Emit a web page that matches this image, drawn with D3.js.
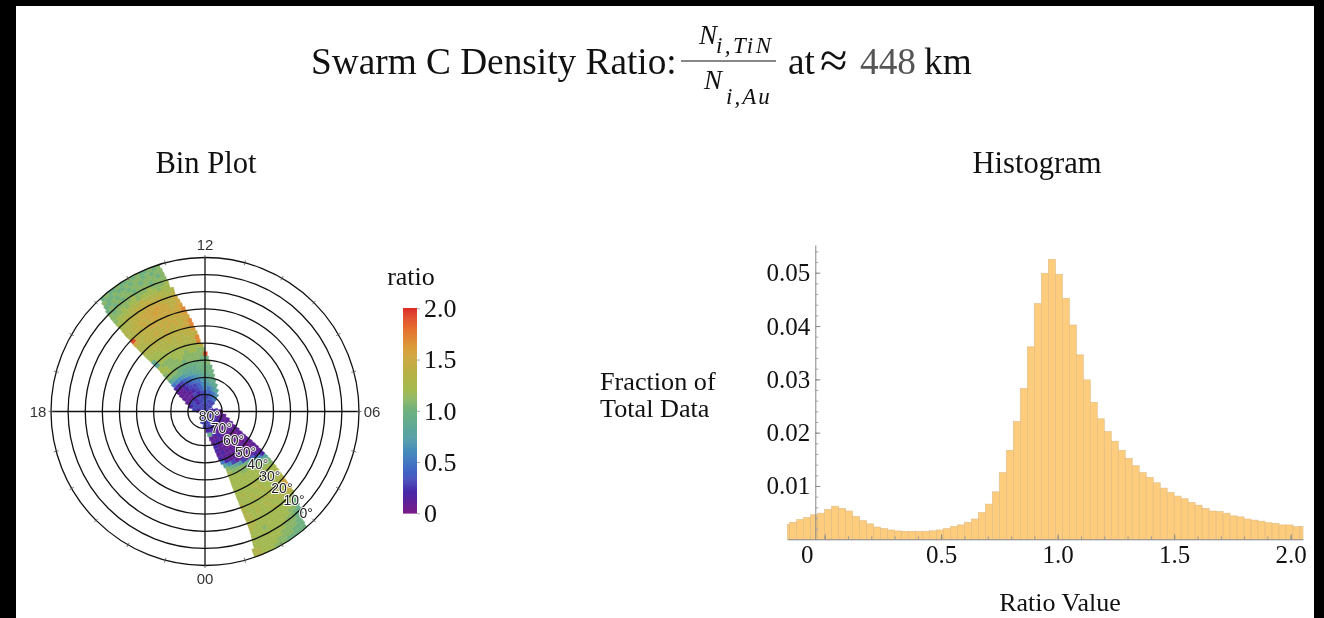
<!DOCTYPE html>
<html>
<head>
<meta charset="utf-8">
<script src="https://d3js.org/d3.v7.min.js"></script>
<style>
body { margin: 0; background: black; overflow: hidden; }
svg { display: block; filter: blur(0.45px); }
text { font-family: "Liberation Serif", serif; fill: #111; }
.sans { font-family: "Liberation Sans", sans-serif; }
</style>
</head>
<body>
<div id="chart"></div>
<script>
// histogram: fraction of total data per bin
var binStart = -0.18;
var binWidth = 0.03;
var fractions = [
    .0028, .0032, .0037, .0041, .0046, .0049, .0056, .0062, .0058, .0053,
    .0043, .0035, .0029, .0023, .0020, .00175, .00157, .0015, .0015, .00144,
    .0015, .0016, .00175, .0020, .0024, .0027, .0032, .0038, .0050, .0066,
    .0089, .0125, .0167, .0221, .0283, .0361, .0442, .0499, .0525, .0497,
    .0452, .0402, .0346, .0299, .0257, .0226, .0202, .0184, .0167, .0152,
    .0138, .0125, .0116, .0106, .0096, .0088, .0081, .0076, .0069, .0064,
    .0058, .0053, .0052, .0049, .0044, .0042, .0038, .0036, .0034, .0031,
    .0030, .0027, .0027, .0024, .0024
];
var histXTicks = [0, 0.5, 1, 1.5, 2];
var histYTicks = [0.01, 0.02, 0.03, 0.04, 0.05];

// bin plot: one row per latitude band, MLT limits for both halves of the swath
var latBands = [0, 2.5, 5, 7.5, 10, 12.5, 15, 17.5, 20, 22.5, 25, 27.5, 30, 32.5, 35, 37.5, 40, 42.5,
    45, 47.5, 50, 52.5, 55, 57.5, 60, 62.5, 65, 67.5, 70, 72.5, 75, 77.5, 80, 82.5, 85, 87.5];
var upperStart = [13.15, 13.12, 13.1, 13.08, 13.05, 13.05, 12.95, 12.95, 12.9, 12.85, 12.8, 12.72, 12.68, 12.62, 12.55, 12.5, 12.45, 12.37,
    12.3, 12.25, 12.1, 12, 11.85, 11.75, 11.6, 11.4, 11.2, 11, 10.7, 10.3, 9.8, 9.3, 9, 8.6, 8, 0];
var upperEnd = [14.87, 14.92, 14.95, 15, 15.02, 15.04, 15.05, 15.06, 15.06, 15.08, 15.1, 15.1, 15.13, 15.15, 15.15, 15.16, 15.17, 15.18,
    15.18, 15.2, 15.2, 15.2, 15.25, 15.3, 15.35, 15.4, 15.5, 15.65, 15.85, 16, 16.2, 16.6, 17.2, 18, 18.5, 24];
var lowerStart = [1.25, 1.25, 1.32, 1.33, 1.35, 1.36, 1.37, 1.37, 1.37, 1.36, 1.36, 1.35, 1.35, 1.35, 1.34, 1.34, 1.33, 1.33,
    1.33, 1.33, 1.33, 1.33, 1.25, 1.13, 1.05, 1, 0.95, 0.9, 0.75, 0.6, 0.4, 0.15, -0.5, -1.5, -2.5, 0];
var lowerEnd = [2.77, 2.8, 2.88, 2.95, 3, 3.05, 3.1, 3.15, 3.22, 3.27, 3.3, 3.33, 3.38, 3.42, 3.47, 3.52, 3.58, 3.62,
    3.66, 3.7, 3.75, 3.8, 3.85, 3.9, 3.95, 4, 4.1, 4.25, 4.4, 4.65, 5, 5.5, 6.5, 7, 7.5, 0];

// cell values are ratio x 10, ordered by rising MLT
var upperCells = [
    [11,10,11,10,10,11,10,11,10,10,11,10,10,11,10],
    [11,11,10,11,10,11,11,10,11,10,10,11,10,10,11],
    [11,10,11,11,11,10,11,11,10,11,11,10,11,10,10],
    [11,11,11,10,11,11,11,10,11,11,10,11,10,11,10],
    [12,11,11,11,12,11,11,11,12,11,11,11,11,10,11],
    [12,12,11,12,12,12,12,11,12,12,11,12,11,11,11],
    [13,12,13,13,13,13,13,14,13,13,13,12,12,12,11],
    [14,13,13,14,14,14,15,14,14,14,13,13,13,12,12],
    [15,14,14,14,15,15,15,15,14,14,14,14,13,13,12],
    [15,14,14,15,15,16,15,15,15,15,14,14,13,13,13],
    [16,15,14,15,15,15,16,15,15,14,15,14,14,13,13],
    [17,15,15,15,15,15,15,15,14,15,14,14,13,13],
    [16,15,15,14,15,15,14,15,15,14,14,14,14,19],
    [15,15,14,15,15,14,15,14,14,14,14,13,14,15],
    [17,15,14,15,14,15,14,14,15,14,14,14,13,13],
    [17,15,15,14,14,14,15,14,14,14,14,13,13,13],
    [16,14,14,14,14,14,14,14,13,14,13,13,13],
    [14,14,14,13,14,13,14,13,13,13,13,13,12],
    [17,14,13,13,14,13,13,13,13,13,12,12,12],
    [17,13,13,13,13,13,12,13,12,12,12,9],
    [14,12,12,12,12,12,12,12,12,12,12,8],
    [11,11,12,12,11,12,12,12,11,11,11,12],
    [19,11,11,11,11,11,12,11,11,11,12,12],
    [10,10,11,11,11,10,11,11,11,12,11],
    [11,10,10,10,10,10,10,10,11,11,11],
    [10,10,10,10,9,9,9,9,10,10,9,8],
    [10,10,10,9,9,8,8,7,6,6,5],
    [10,9,9,8,7,6,5,4,3,2,2],
    [9,9,8,7,5,5,4,3,2,1,1],
    [9,8,7,6,4,3,3,2,1,1],
    [8,7,5,6,4,3,2,1,1,1],
    [7,5,4,4,3,2,3,1,1,1],
    [5,4,3,3,3,2,3,2],
    [3,3,4,3,2,3,3],
    [3,3,3,3,2],
    [3]
];
var lowerCells = [
    [13,13,12,12,12,11,11,11,10,10,10,10,10],
    [13,13,12,12,12,12,11,11,11,11,10,10,10],
    [12,12,12,12,12,12,12,11,11,11,11,10,10],
    [12,12,12,12,12,12,12,12,11,11,11,10,9],
    [12,12,12,12,12,12,12,12,12,11,11,10,9],
    [12,12,12,11,12,12,12,12,12,12,11,11,9],
    [13,12,12,12,12,12,12,12,12,12,12,11,10],
    [13,13,12,12,12,12,12,12,12,12,12,12,11],
    [13,13,12,12,12,12,12,13,12,12,12,13,13],
    [13,13,12,13,12,12,13,12,12,13,13,14,15],
    [13,12,12,13,12,13,12,13,12,13,13,16],
    [13,12,13,12,12,12,13,12,13,13,14,15],
    [13,12,12,12,13,12,12,13,12,12,13,13],
    [12,12,12,13,12,12,13,12,12,13,12,13],
    [12,13,12,12,12,13,12,12,13,12,13],
    [12,12,12,12,13,12,12,12,12,12,12],
    [12,12,12,12,12,12,12,12,12,12,11],
    [12,12,12,12,12,12,12,12,11,11,10],
    [12,12,12,12,12,12,11,11,10,8],
    [12,12,12,11,11,11,10,9,6,2],
    [12,11,11,11,10,8,4,2,1],
    [11,10,9,7,3,1,1,1,1],
    [8,6,3,1,1,1,1,1,1],
    [5,2,1,1,1,1,1,0,1],
    [2,1,1,1,1,1,1,1],
    [1,2,1,1,1,1,0,1],
    [2,1,1,0,1,1,1,1],
    [2,1,1,1,1,0,1],
    [1,2,1,1,1,1,1],
    [1,1,2,1,1,1,1],
    [9,2,1,1,1,1],
    [2,2,1,1,1,1],
    [3,3,2,2,1,1],
    [3,3,3,2,2],
    [3,3,2,2],
    []
];

var ringLats = [80, 70, 60, 50, 40, 30, 20, 10, 0];
var hourLabels = [[12, "12"], [6, "06"], [0, "00"], [18, "18"]];
var labelMlt = 3;
var legendTicks = [0, 0.5, 1, 1.5, 2];
var rainbowStops = ["#781c86", "#4a28a8", "#4163c4", "#478dbd", "#5aa59c", "#6fb27f", "#a3ba50", "#bcb045", "#da9f3a", "#e5702f", "#db2a26"];

var colorScale = d3.scaleLinear()
    .domain(d3.range(rainbowStops.length).map(function(i) { return 2 * i / (rainbowStops.length - 1); }))
    .range(rainbowStops);

var svg = d3.select("#chart").append("svg")
    .attr("width", 1324)
    .attr("height", 618);

svg.append("rect")
    .attr("x", 16)
    .attr("y", 6)
    .attr("width", 1298)
    .attr("height", 612)
    .attr("fill", "white");

drawTitle();
drawBinPlot();
drawLegend();
drawHistogram();

function addText(x, y, str, size, anchor) {
    return svg.append("text")
        .attr("x", x)
        .attr("y", y)
        .attr("font-size", size)
        .attr("text-anchor", anchor || "middle")
        .text(str);
}

function drawTitle() {
    addText(311, 74, "Swarm C Density Ratio:", 37.3, "start");
    addText(699, 44, "N", 27, "start").style("font-style", "italic");
    addText(716, 53, "i,TiN", 23, "start").style("font-style", "italic").style("letter-spacing", "2.4px");
    addText(704, 89, "N", 27, "start").style("font-style", "italic");
    addText(726, 104, "i,Au", 23, "start").style("font-style", "italic").style("letter-spacing", "2px");
    svg.append("line")
        .attr("x1", 681).attr("x2", 776)
        .attr("y1", 61).attr("y2", 61)
        .attr("stroke", "#111")
        .attr("stroke-width", 1);
    addText(788, 74, "at", 37.3, "start");
    addText(820, 77, "\u2248", 50, "start");
    addText(860, 74, "448", 37.3, "start").style("fill", "#555");
    addText(924, 74, "km", 37.3, "start");

    addText(206, 173, "Bin Plot", 30.6);
    addText(1037, 173, "Histogram", 30.6);
    addText(600, 390, "Fraction of", 26.2, "start");
    addText(600, 417, "Total Data", 26.2, "start");
    addText(1060, 611, "Ratio Value", 26);
}

function drawBinPlot() {
    var g = svg.append("g")
        .attr("transform", "translate(205,411.5)");

    var rScale = d3.scaleLinear().domain([90, 0]).range([0, 154]);
    var angle = d3.scaleLinear().domain([12, 0]).range([0, Math.PI]);

    var arc = d3.arc()
        .innerRadius(function(d) { return rScale(d.lat + 2.5); })
        .outerRadius(function(d) { return rScale(d.lat); })
        .startAngle(function(d) { return angle(d.m0); })
        .endAngle(function(d) { return angle(d.m1); });

    var cells = [];
    latBands.forEach(function(lat, i) {
        addRow(cells, lat, upperStart[i], upperEnd[i], upperCells[i]);
        addRow(cells, lat, lowerStart[i], lowerEnd[i], lowerCells[i]);
    });

    g.selectAll("path.cell").data(cells).enter()
        .append("path")
        .attr("class", "cell")
        .attr("d", arc)
        .attr("fill", function(d) { return colorScale(d.value); })
        .attr("stroke", function(d) { return d3.color(colorScale(d.value)).darker(0.15); })
        .attr("stroke-width", 0.35);

    g.selectAll("circle.ring").data(ringLats).enter()
        .append("circle")
        .attr("class", "ring")
        .attr("r", function(d) { return rScale(d); })
        .attr("fill", "none")
        .attr("stroke", "#111")
        .attr("stroke-width", 1.3);

    // spokes through the pole
    [[0, 12], [6, 18]].forEach(function(pair) {
        g.append("line")
            .attr("x1", rScale(0) * Math.sin(angle(pair[0])))
            .attr("y1", -rScale(0) * Math.cos(angle(pair[0])))
            .attr("x2", rScale(0) * Math.sin(angle(pair[1])))
            .attr("y2", -rScale(0) * Math.cos(angle(pair[1])))
            .attr("stroke", "#111")
            .attr("stroke-width", 1.3);
    });

    g.selectAll("line.hour").data(d3.range(0, 24)).enter()
        .append("line")
        .attr("class", "hour")
        .attr("x1", function(d) { return 151.5 * Math.sin(angle(d)); })
        .attr("y1", function(d) { return -151.5 * Math.cos(angle(d)); })
        .attr("x2", function(d) { return 156.5 * Math.sin(angle(d)); })
        .attr("y2", function(d) { return -156.5 * Math.cos(angle(d)); })
        .attr("stroke", "#555")
        .attr("stroke-width", 0.8);

    g.selectAll("text.hour").data(hourLabels).enter()
        .append("text")
        .attr("class", "hour sans")
        .attr("x", function(d) { return 167 * Math.sin(angle(d[0])); })
        .attr("y", function(d) { return -167 * Math.cos(angle(d[0])); })
        .attr("dy", "0.35em")
        .attr("text-anchor", "middle")
        .attr("font-size", 15)
        .style("fill", "#333")
        .text(function(d) { return d[1]; });

    g.selectAll("text.lat").data(ringLats).enter()
        .append("text")
        .attr("class", "lat sans")
        .attr("x", function(d) { return (rScale(d) - 11) * Math.sin(angle(labelMlt)); })
        .attr("y", function(d) { return -(rScale(d) - 11) * Math.cos(angle(labelMlt)); })
        .attr("dy", "0.35em")
        .attr("text-anchor", "middle")
        .attr("font-size", 14)
        .attr("stroke", "white")
        .attr("stroke-width", 1.8)
        .style("paint-order", "stroke")
        .style("fill", "#222")
        .text(function(d) { return d + "\u00b0"; });
}

function addRow(cells, lat, m0, m1, values) {
    var step = (m1 - m0) / values.length;
    values.forEach(function(v, j) {
        cells.push({
            lat: lat,
            m0: m0 + j * step,
            m1: m0 + (j + 1) * step,
            value: v / 10
        });
    });
}

function drawLegend() {
    var legendY = d3.scaleLinear().domain([0, 2]).range([513.3, 308.3]);

    svg.selectAll("rect.swatch").data(d3.range(0, 2, 0.01)).enter()
        .append("rect")
        .attr("class", "swatch")
        .attr("x", 403)
        .attr("width", 14)
        .attr("y", function(d) { return legendY(d + 0.01) - 0.3; })
        .attr("height", function(d) { return legendY(d) - legendY(d + 0.01) + 0.6; })
        .attr("fill", function(d) { return colorScale(d); });

    var axis = svg.append("g")
        .attr("transform", "translate(417,0)")
        .call(d3.axisRight(legendY)
            .tickValues(legendTicks)
            .tickSize(3)
            .tickPadding(4)
            .tickFormat(function(d) { return d === 0 ? "0" : d.toFixed(1); }));
    axis.select(".domain").remove();
    axis.selectAll("line").attr("stroke", "#aaa");
    axis.selectAll("text")
        .attr("font-size", 26)
        .attr("font-family", "Liberation Serif")
        .style("fill", "#111");

    addText(411, 285, "ratio", 26);
}

function drawHistogram() {
    var x = d3.scaleLinear().domain([-0.16, 2.053]).range([787.4, 1303]).clamp(true);
    var y = d3.scaleLinear().domain([0, 0.0552]).range([539.3, 245]);
    var axisX = 815.3;

    svg.selectAll("rect.bar").data(fractions).enter()
        .append("rect")
        .attr("class", "bar")
        .attr("x", function(d, i) { return x(binStart + i * binWidth); })
        .attr("width", function(d, i) { return x(binStart + (i + 1) * binWidth) - x(binStart + i * binWidth); })
        .attr("y", function(d) { return y(d); })
        .attr("height", function(d) { return y(0) - y(d); })
        .attr("fill", "#fdcd7d")
        .attr("stroke", "#e0ba82")
        .attr("stroke-width", 0.6);

    // minor ticks
    var minorX = svg.append("g")
        .attr("transform", "translate(0,539.3)")
        .call(d3.axisBottom(x).tickValues(d3.range(0, 2.05, 0.1)).tickSize(-3).tickFormat(""));
    minorX.select(".domain").remove();
    minorX.selectAll("line").attr("stroke", "#999");

    var minorY = svg.append("g")
        .attr("transform", "translate(" + axisX + ",0)")
        .call(d3.axisLeft(y).tickValues(d3.range(0.002, 0.055, 0.002)).tickSize(-3).tickFormat(""));
    minorY.select(".domain").remove();
    minorY.selectAll("line").attr("stroke", "#aaa");

    var xAxis = svg.append("g")
        .attr("transform", "translate(0,539.3)")
        .call(d3.axisBottom(x)
            .tickValues(histXTicks)
            .tickSizeOuter(0)
            .tickSizeInner(-5)
            .tickPadding(6)
            .tickFormat(function(d) { return d === 0 ? "0" : d.toFixed(1); }));
    styleAxis(xAxis);
    xAxis.selectAll("text").filter(function(d) { return d === 0; }).attr("dx", -18);

    var yAxis = svg.append("g")
        .attr("transform", "translate(" + axisX + ",0)")
        .call(d3.axisLeft(y)
            .tickValues(histYTicks)
            .tickSizeOuter(0)
            .tickSizeInner(-5)
            .tickPadding(5)
            .tickFormat(d3.format(".2f")));
    styleAxis(yAxis);
}

function styleAxis(axis) {
    axis.select(".domain").attr("stroke", "#888");
    axis.selectAll("line").attr("stroke", "#888");
    axis.selectAll("text")
        .attr("font-size", 25)
        .attr("font-family", "Liberation Serif")
        .style("fill", "#111");
}
</script>
</body>
</html>
